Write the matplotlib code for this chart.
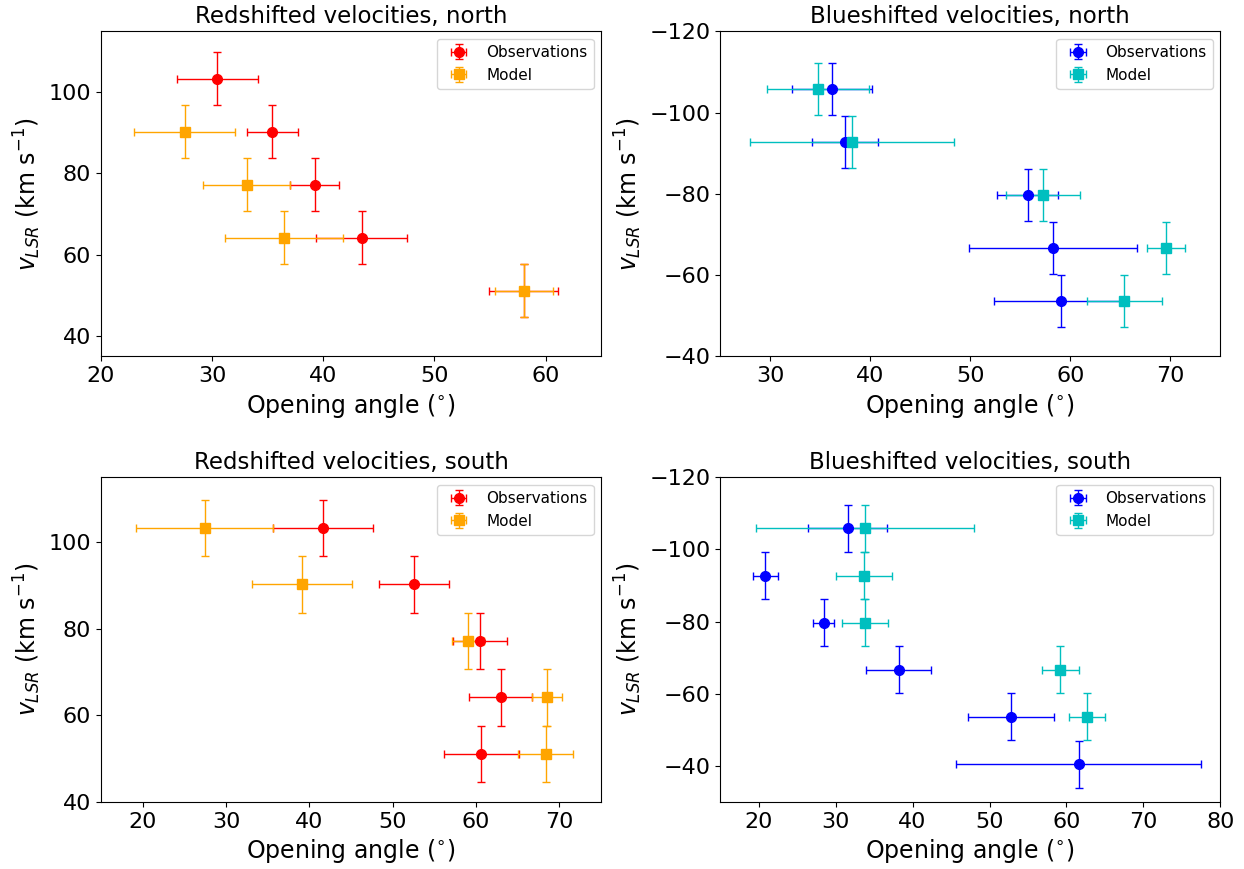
import numpy as np
import matplotlib
matplotlib.use("Agg")
import matplotlib.pyplot as plt

# velocity channels (km/s)
v_red = [51.1, 64.15, 77.2, 90.25, 103.3]
v_blue = [-40.5, -53.6, -66.65, -79.7, -92.75, -105.8]
v_err = 6.5

# red, north
rn_obs_x = [58.05, 43.45, 39.24, 35.4, 30.45]
rn_obs_xerr = [3.1, 4.07, 2.2, 2.3, 3.65]
rn_mod_x = [58.05, 36.5, 33.1, 27.54]
rn_mod_xerr = [2.6, 5.3, 3.9, 4.55]

# blue, north
bn_obs_x = [59.1, 58.25, 55.75, 37.45, 36.21]
bn_obs_xerr = [6.7, 8.4, 3.05, 3.3, 4.0]
bn_mod_x = [65.37, 69.54, 57.28, 38.15, 34.8]
bn_mod_xerr = [3.75, 1.9, 3.7, 10.2, 5.1]

# red, south
rs_obs_x = [60.6, 62.95, 60.44, 52.54, 41.64]
rs_obs_xerr = [4.5, 3.8, 3.25, 4.2, 6.0]
rs_mod_x = [68.35, 68.47, 59.0, 39.1, 27.44]
rs_mod_xerr = [3.3, 1.8, 1.9, 6.0, 8.2]

# blue, south
bs_obs_x = [61.57, 52.8, 38.2, 28.45, 20.87, 31.55]
bs_obs_xerr = [15.9, 5.55, 4.2, 1.4, 1.65, 5.1]
bs_mod_x = [62.65, 59.18, 33.8, 33.7, 33.8]
bs_mod_xerr = [2.35, 2.4, 3.0, 3.6, 14.2]


def panel(ax, title, obs_x, obs_xerr, obs_v, mod_x, mod_xerr, mod_v,
          c_obs, c_mod, xlim, ylim):
    ax.errorbar(obs_x, obs_v, xerr=obs_xerr, yerr=v_err, fmt="o", color=c_obs,
                ms=7, capsize=3, elinewidth=1, label="Observations")
    ax.errorbar(mod_x, mod_v, xerr=mod_xerr, yerr=v_err, fmt="s", color=c_mod,
                ms=7, capsize=3, elinewidth=1, label="Model")
    ax.set_title(title, fontsize=16.5)
    ax.set_xlabel(r"Opening angle ($^{\circ}$)", fontsize=17)
    ax.set_ylabel(r"$v_{LSR}$ (km s$^{-1}$)", fontsize=17)
    ax.tick_params(labelsize=16)
    ax.set_xlim(xlim)
    ax.set_ylim(ylim)
    ax.legend(loc="upper right", fontsize=11)


def main():
    fig, axs = plt.subplots(2, 2, figsize=(12.44, 8.69), dpi=100)
    plt.subplots_adjust(left=0.0812, right=0.981, top=0.964, bottom=0.077,
                        wspace=0.238, hspace=0.372)

    panel(axs[0, 0], "Redshifted velocities, north", rn_obs_x, rn_obs_xerr, v_red,
          rn_mod_x, rn_mod_xerr, v_red[:4], "r", "orange", (20, 65), (35, 115))
    panel(axs[0, 1], "Blueshifted velocities, north", bn_obs_x, bn_obs_xerr, v_blue[1:],
          bn_mod_x, bn_mod_xerr, v_blue[1:], "b", "c", (25, 75), (-40, -120))
    panel(axs[1, 0], "Redshifted velocities, south", rs_obs_x, rs_obs_xerr, v_red,
          rs_mod_x, rs_mod_xerr, v_red, "r", "orange", (15, 75), (40, 115))
    panel(axs[1, 1], "Blueshifted velocities, south", bs_obs_x, bs_obs_xerr, v_blue,
          bs_mod_x, bs_mod_xerr, v_blue[1:], "b", "c", (15, 80), (-30, -120))

    fig.savefig("out.png", dpi=100)


if __name__ == "__main__":
    main()
